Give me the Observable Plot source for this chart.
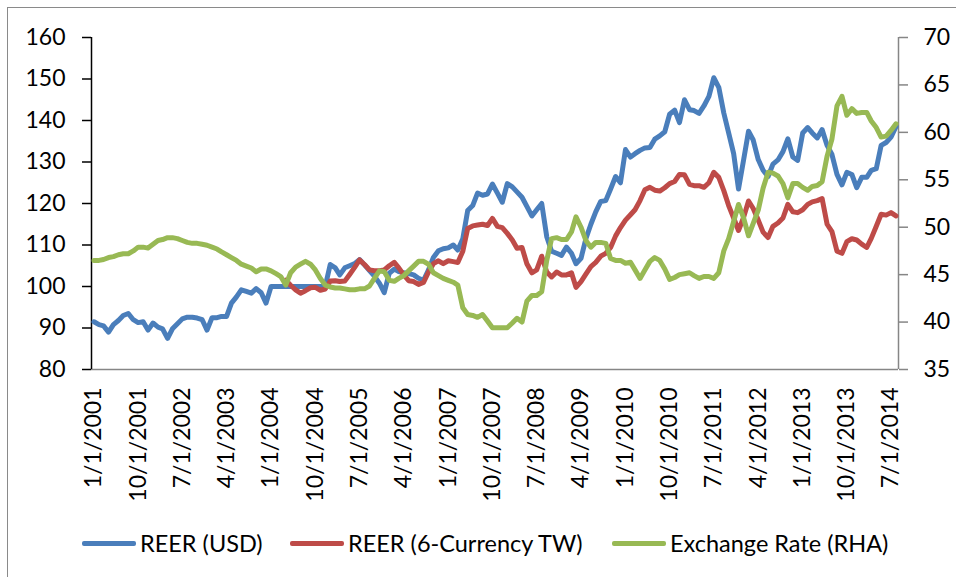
<!DOCTYPE html>
<html><head><meta charset="utf-8">
<script src="https://cdn.jsdelivr.net/npm/d3@7"></script>
<script src="https://cdn.jsdelivr.net/npm/@observablehq/plot@0.6"></script>
<style>
body{margin:0;background:#fff;font-family:Lato,"Open Sans",sans-serif;}
#wrap{position:relative;width:956px;height:577px;overflow:hidden;background:#fff;}
#frame{position:absolute;left:7px;top:7px;width:1000px;height:1000px;border:1.5px solid #8a8a8a;box-sizing:border-box;}
#chart{position:absolute;left:0;top:0;}
.sw{position:absolute;height:5px;border-radius:2px;}
.lt{position:absolute;font-size:23.5px;color:#000;line-height:24px;white-space:nowrap;}
</style></head><body>
<div id="wrap"><div id="frame"></div><div id="chart"></div><div id="legend"></div></div>
<script>
// Monthly data, Jan 2001 .. Aug 2014
const startMonth = "2001-01";
const seriesNames = ["REER (USD)", "REER (6-Currency TW)", "Exchange Rate (RHA)"];
const seriesColors = ["#4a7ebb", "#be4b48", "#98b954"];

const reerUSD = [
  91.5, 90.8, 90.5, 89, 90.8, 91.8, 93, 93.5, 92, 91.3, 91.5, 89.5,
  91.2, 90.2, 89.8, 87.5, 89.8, 91, 92.2, 92.6, 92.6, 92.4, 92, 89.5,
  92.5, 92.5, 92.8, 92.8, 96, 97.5, 99.2, 98.8, 98.4, 99.5, 98.5, 96,
  100, 100, 100, 100, 100, 100, 100, 100, 100, 100, 100, 100,
  105.3, 104.5, 102.8, 104.5, 105, 105.5, 106.5, 105.2, 103.8, 102.5, 100.8, 98.5,
  103.2, 104.2, 103.6, 103.3, 103.1, 102.8, 102, 101.5, 104, 107, 108.6, 109.1,
  109.3, 110, 108.8, 111.5, 118.3, 119.5, 122.5, 122, 122.3, 124.7, 122.5, 120.3,
  124.8, 124, 122.8, 121.5, 119.3, 117, 118.5, 120, 112, 108.5, 108, 107.5,
  109.5, 108, 105.5, 106.8, 111.5, 115, 118, 120.5, 120.7, 123.5, 126.5, 125,
  133, 131.2, 132, 132.8, 133.4, 133.5, 135.5, 136.3, 137.3, 141.5, 142.5, 139.5,
  145, 142.6, 142.4, 141.7, 143.5, 145.8, 150.3, 148, 141.8, 137, 132, 123.5,
  130.4, 137.4, 135.3, 130.6, 128, 126.5, 129.5, 130.5, 132.5, 135.6, 131.2, 130.4,
  137, 138.3, 137, 135.8, 137.8, 134, 131.8, 127, 124.5, 127.5, 127, 123.8,
  126.3, 126.3, 128, 128.4, 134, 134.7, 136, 138.5
];

// starts Apr 2004
const reerTWStart = "2004-04";
const reerTW = [
  101.5, 100.3, 99.2, 98.4, 99, 99.7, 99.8, 99.1, 99.4,
  101.3, 101.4, 101.2, 101.3, 102.9, 104.6, 106.4, 105.3, 104, 103.8, 103.8, 104,
  105, 105.8, 104.5, 102.8, 101.4, 101.2, 100.5, 101, 103.5, 105.5, 106.2, 105.5,
  106.2, 106, 105.8, 108.5, 114, 114.6, 114.8, 115, 114.7, 116.4, 114.5, 114.2,
  112.8, 111.2, 109.2, 109.4, 105.5, 103.3, 104, 107.3, 103.5, 102.3, 103.5, 102.8,
  102.8, 103.3, 99.8, 101.2, 103, 104.8, 105.8, 107.3, 108, 109.4, 112.2, 114.2,
  116, 117.3, 118.5, 120.7, 123.3, 123.9, 123.2, 123, 123.8, 124.8, 125.3, 127,
  126.9, 124.6, 124.3, 124.3, 123.9, 125, 127.5, 126.3, 123.1, 119.5, 116.5, 113.5,
  116.6, 120.6, 118.8, 116, 113.1, 111.8, 114.5, 115.3, 116.5, 119.8, 118, 117.8,
  118.5, 119.8, 120.4, 120.7, 121.2, 115, 113.2, 108.5, 108, 110.8, 111.5, 111.2,
  110.2, 109.4, 111.6, 114.5, 117.4, 117.2, 117.8, 117
];

const exchRate = [
  46.5, 46.5, 46.6, 46.8, 46.9, 47.1, 47.2, 47.2, 47.5, 47.9, 47.9, 47.8,
  48.2, 48.6, 48.7, 48.9, 48.9, 48.8, 48.6, 48.4, 48.3, 48.3, 48.2, 48.1,
  47.9, 47.7, 47.4, 47.1, 46.8, 46.5, 46.1, 45.9, 45.7, 45.3, 45.6, 45.6,
  45.4, 45.1, 44.8, 43.9, 45.2, 45.8, 46.1, 46.4, 46.1, 45.5, 44.6, 43.9,
  43.7, 43.6, 43.6, 43.5, 43.4, 43.4, 43.5, 43.5, 43.8, 44.6, 45.4, 45.3,
  44.4, 44.3, 44.6, 44.9, 45.4, 45.9, 46.4, 46.4, 46.1, 45.2, 44.9, 44.6,
  44.4, 44.2, 43.9, 41.5, 40.8, 40.7, 40.5, 40.8, 40.1, 39.4, 39.4, 39.4,
  39.4, 39.9, 40.4, 40, 42.2, 42.8, 42.8, 43.2, 46.5, 48.8, 48.9, 48.7,
  48.7, 49.5, 51.1, 50, 48.6, 47.9, 48.4, 48.4, 48.3, 46.7, 46.5, 46.5,
  46.2, 46.3, 45.5, 44.6, 45.5, 46.4, 46.8, 46.5, 45.6, 44.5, 44.7, 45,
  45.1, 45.2, 44.9, 44.6, 44.8, 44.8, 44.6, 45.2, 47.5, 48.8, 50.6, 52.4,
  51, 49.1, 50.4, 51.8, 54.1, 55.8, 55.7, 55.4, 54.6, 53.1, 54.6, 54.6,
  54.2, 53.9, 54.3, 54.4, 54.8, 57.5, 59.3, 62.8, 63.8, 61.8, 62.5, 62,
  62.1, 62.1, 61.2, 60.5, 59.5, 59.6, 60.2, 60.9
];

const xTickLabels = ["1/1/2001","10/1/2001","7/1/2002","4/1/2003","1/1/2004","10/1/2004","7/1/2005","4/1/2006","1/1/2007","10/1/2007","7/1/2008","4/1/2009","1/1/2010","10/1/2010","7/1/2011","4/1/2012","1/1/2013","10/1/2013","7/1/2014"];
const leftTicks = [80, 90, 100, 110, 120, 130, 140, 150, 160];
const rightTicks = [35, 40, 45, 50, 55, 60, 65, 70];

// ---- build
const parseMonth = d3.utcParse("%Y-%m");
const parseLabel = d3.utcParse("%m/%d/%Y");
const monthsFrom = (start, n) => d3.utcMonth.range(parseMonth(start), d3.utcMonth.offset(parseMonth(start), n));

const L0 = 80, L1 = 160, R0 = 35, R1 = 70;
const toLeft = v => L0 + (v - R0) * (L1 - L0) / (R1 - R0);

const mUSD = monthsFrom(startMonth, reerUSD.length);
const mTW = monthsFrom(reerTWStart, reerTW.length);
const mEX = monthsFrom(startMonth, exchRate.length);

const rows = [
  ...reerUSD.map((v, i) => ({s: seriesNames[0], date: mUSD[i], y: v})),
  ...reerTW.map((v, i) => ({s: seriesNames[1], date: mTW[i], y: v})),
  ...exchRate.map((v, i) => ({s: seriesNames[2], date: mEX[i], y: toLeft(v)}))
];

const first = mUSD[0], last = mUSD[mUSD.length - 1];
const xDomain = [new Date(+first - 15.5 * 864e5), new Date(+last + 15.5 * 864e5)];

const tickDates = xTickLabels.map(parseLabel);
const labelMap = new Map(tickDates.map((d, i) => [+d, xTickLabels[i]]));
const rightMap = new Map(rightTicks.map(v => [toLeft(v), v]));

const chart = Plot.plot({
  width: 956,
  height: 577,
  marginLeft: 91,
  marginRight: 58,
  marginTop: 37,
  marginBottom: 208,
  style: {fontFamily: "Lato, 'Open Sans', sans-serif", fontSize: "23px", color: "#000", background: "transparent", overflow: "visible"},
  x: {type: "utc", domain: xDomain},
  y: {domain: [L0, L1]},
  color: {domain: seriesNames, range: seriesColors},
  marks: [
    Plot.axisY(leftTicks, {anchor: "left", tickSize: 9, tickPadding: 17, stroke: "#000", strokeWidth: 1.5, label: null, fontSize: 23, tickFormat: d => String(d)}),
    Plot.axisY(rightTicks.map(toLeft), {anchor: "right", tickSize: 9, tickPadding: 16, stroke: "#868686", strokeWidth: 1.5, label: null, fontSize: 23, tickFormat: d => rightMap.get(d)}),
    Plot.axisX(tickDates, {anchor: "bottom", tickSize: 0, tickPadding: 18, tickRotate: -90, label: null, fontSize: 23, tickFormat: d => labelMap.get(+d)}),
    Plot.ruleY([L0], {stroke: "#868686", strokeWidth: 1.5}),
    Plot.ruleX([xDomain[1]], {stroke: "#868686", strokeWidth: 1.5}),
    Plot.ruleX([xDomain[0]], {stroke: "#000", strokeWidth: 1.5}),
    Plot.lineY(rows, {x: "date", y: "y", z: "s", stroke: "s", strokeWidth: 5, strokeLinejoin: "round", strokeLinecap: "round"})
  ]
});
document.getElementById("chart").appendChild(chart);

// legend
const leg = document.getElementById("legend");
const legPos = [82, 290, 612];
seriesNames.forEach((name, i) => {
  const sw = document.createElement("div");
  sw.className = "sw";
  sw.style.left = legPos[i] + "px";
  sw.style.top = "541px";
  sw.style.width = "54px";
  sw.style.background = seriesColors[i];
  leg.appendChild(sw);
  const t = document.createElement("div");
  t.className = "lt";
  t.style.left = (legPos[i] + 58) + "px";
  t.style.top = "531px";
  t.textContent = name;
  leg.appendChild(t);
});
</script>
</body></html>
